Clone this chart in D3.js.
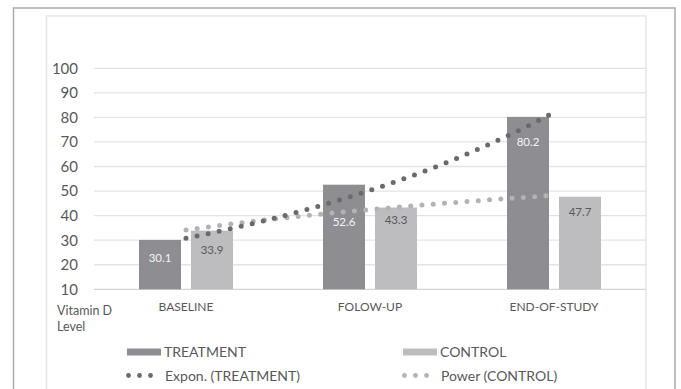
<!DOCTYPE html>
<html>
<head>
<meta charset="utf-8">
<script src="https://cdn.jsdelivr.net/npm/d3@7"></script>
<style>
  body { margin: 0; background: #fff; }
  text { font-family: Lato, "Open Sans", sans-serif; }
</style>
</head>
<body>
<div id="chart"></div>
<script>
// Data
const categories = ['BASELINE', 'FOLOW-UP', 'END-OF-STUDY']
const seriesNames = ['TREATMENT', 'CONTROL']
const treatment = [30.1, 52.6, 80.2]
const control = [33.9, 43.3, 47.7]
const yTicks = [10, 20, 30, 40, 50, 60, 70, 80, 90, 100]
const trendNames = ['Expon. (TREATMENT)', 'Power (CONTROL)']

// how far below bar top each data label sits (px), as placed in the source
const labelDy = [[18, 37, 25], [19, 12, 15]]

const colors = { TREATMENT: '#8e8e92', CONTROL: '#bdbdbf' }
const trendColors = ['#6a6a6d', '#b3b3b5']

// Dimensions
const W = 681, H = 389
const plot = { left: 94, right: 646, top: 68.3, bottom: 289.3 }

const svg = d3.select('#chart')
  .append('svg')
  .attr('width', W)
  .attr('height', H)

// frames
svg.append('rect')
  .attr('x', 13.5).attr('y', 8).attr('width', 661.5).attr('height', 400)
  .attr('fill', 'none').attr('stroke', '#ababab').attr('stroke-width', 1.5)
svg.append('rect')
  .attr('x', 46.5).attr('y', 16).attr('width', 599.5).attr('height', 400)
  .attr('fill', 'none').attr('stroke', '#e6e6e6').attr('stroke-width', 1.5)

// Scales
const x = d3.scaleBand().domain(categories).range([plot.left, plot.right]).padding(0)
const xInner = d3.scaleBand().domain(seriesNames).range([-47, 47]).paddingInner(10 / 52)
const y = d3.scaleLinear().domain([10, 100]).range([plot.bottom, plot.top])
const xTrend = d3.scaleLinear().domain([1, 3])
  .range([x(categories[0]) + x.bandwidth() / 2, x(categories[2]) + x.bandwidth() / 2])

// Gridlines
svg.append('g')
  .selectAll('line')
  .data(yTicks)
  .enter()
  .append('line')
  .attr('x1', plot.left).attr('x2', plot.right)
  .attr('y1', d => y(d)).attr('y2', d => y(d))
  .attr('stroke', d => d === 10 ? '#d4d4d4' : '#e3e3e3')
  .attr('stroke-width', 1.3)

// Y axis labels
svg.append('g')
  .selectAll('text')
  .data(yTicks)
  .enter()
  .append('text')
  .attr('x', 78)
  .attr('y', d => y(d))
  .attr('dy', '0.36em')
  .attr('text-anchor', 'end')
  .attr('font-size', 15)
  .attr('fill', '#595959')
  .text(d => d)

// category labels
svg.append('g')
  .selectAll('text')
  .data(categories)
  .enter()
  .append('text')
  .attr('x', d => x(d) + x.bandwidth() / 2)
  .attr('y', 307)
  .attr('dy', '0.36em')
  .attr('text-anchor', 'middle')
  .attr('font-size', 12)
  .attr('fill', '#595959')
  .text(d => d)

// axis title
const title = svg.append('text')
  .attr('x', 57).attr('y', 310)
  .attr('font-size', 12.5)
  .attr('fill', '#595959')
title.append('tspan').attr('x', 57).attr('dy', '0.36em').text('Vitamin D')
title.append('tspan').attr('x', 57).attr('dy', 16).text('Level')

// Bars
const rows = [treatment, control]
const barData = []
seriesNames.forEach((s, si) => {
  categories.forEach((c, ci) => {
    barData.push({ s: s, c: c, v: rows[si][ci], dy: labelDy[si][ci], si: si })
  })
})

svg.append('g')
  .selectAll('rect')
  .data(barData)
  .enter()
  .append('rect')
  .attr('x', d => x(d.c) + x.bandwidth() / 2 + xInner(d.s))
  .attr('y', d => y(d.v))
  .attr('width', xInner.bandwidth())
  .attr('height', d => plot.bottom - y(d.v))
  .attr('fill', d => colors[d.s])

// Trendlines (regression on the bar values, like the spreadsheet)
const xs = [1, 2, 3]
function fitLinear(px, py) {
  const mx = d3.mean(px), my = d3.mean(py)
  const b = d3.sum(px, (v, i) => (v - mx) * (py[i] - my)) / d3.sum(px, v => (v - mx) * (v - mx))
  return { a: my - b * mx, b: b }
}
const expFit = fitLinear(xs, treatment.map(Math.log))
const powFit = fitLinear(xs.map(Math.log), control.map(Math.log))
const expon = t => Math.exp(expFit.a + expFit.b * t)
const power = t => Math.exp(powFit.a) * Math.pow(t, powFit.b)

const samples = d3.range(1, 3.0001, 0.02)
const line = d3.line().x(d => xTrend(d[0])).y(d => y(d[1])).curve(d3.curveLinear)

;[power, expon].forEach((f, i) => {
  svg.append('path')
    .datum(samples.map(t => [t, f(t)]))
    .attr('d', line)
    .attr('fill', 'none')
    .attr('stroke', i === 0 ? trendColors[1] : trendColors[0])
    .attr('stroke-width', 5)
    .attr('stroke-linecap', 'round')
    .attr('stroke-dasharray', '0 11.3')
})

// Data labels
svg.append('g')
  .selectAll('text')
  .data(barData)
  .enter()
  .append('text')
  .attr('x', d => x(d.c) + x.bandwidth() / 2 + xInner(d.s) + xInner.bandwidth() / 2)
  .attr('y', d => y(d.v) + d.dy)
  .attr('dy', '0.36em')
  .attr('text-anchor', 'middle')
  .attr('font-size', 11.5)
  .attr('fill', d => d.si === 0 ? '#f4f4f4' : '#595959')
  .text(d => d.v)

// Legend
const legend = svg.append('g')
const legX = [127, 403]
seriesNames.forEach((s, i) => {
  legend.append('rect')
    .attr('x', legX[i]).attr('y', 348.5)
    .attr('width', 34).attr('height', 7)
    .attr('fill', colors[s])
  legend.append('text')
    .attr('x', legX[i] + 37).attr('y', 352)
    .attr('dy', '0.36em')
    .attr('font-size', 14)
    .attr('fill', '#595959')
    .text(s)
})
trendNames.forEach((s, i) => {
  legend.append('g')
    .selectAll('circle')
    .data([0, 1, 2])
    .enter()
    .append('circle')
    .attr('cx', d => legX[i] + 1.5 + d * 11)
    .attr('cy', 375.5)
    .attr('r', 2.4)
    .attr('fill', trendColors[i])
  legend.append('text')
    .attr('x', legX[i] + 38).attr('y', 375.5)
    .attr('dy', '0.36em')
    .attr('font-size', 14)
    .attr('fill', '#595959')
    .text(s)
})
</script>
</body>
</html>
